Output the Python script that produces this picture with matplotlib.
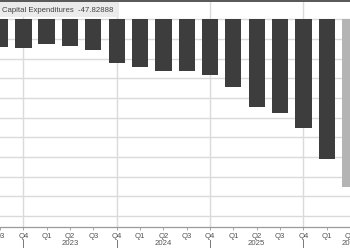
import matplotlib
matplotlib.use("Agg")
import matplotlib.pyplot as plt
from matplotlib.patches import Rectangle
import numpy as np

# ---- data ----
quarters = ["Q3", "Q4", "Q1", "Q2", "Q3", "Q4", "Q1", "Q2", "Q3", "Q4",
            "Q1", "Q2", "Q3", "Q4", "Q1", "Q2"]
capex = [-7.78, -8.24, -7.09, -7.49, -8.72, -12.36, -13.50, -14.73, -14.65,
         -15.88, -19.22, -25.11, -26.83, -31.12, -39.99, -47.83]
estimate = [False] * 15 + [True]
year_labels = ["2023", "2024", "2025", "2026"]
year_sep_idx = [1, 5, 9, 13]          # positions of the "|" separators (Q4 bars)
legend_text = "Capital Expenditures  -47.82888"

# ---- styling ----
bar_col = "#3d3d3d"
est_col = "#b4b4b4"
grid_col = "#dadada"
txt_col = "#555555"

plt.rcParams["font.family"] = ["Liberation Sans", "DejaVu Sans"]

fig = plt.figure(figsize=(3.5, 2.5), dpi=100)
ax = fig.add_axes([0.0, 23 / 250, 1.0, 225 / 250])

x = np.arange(len(capex))
colors = [est_col if e else bar_col for e in estimate]
ax.bar(x, capex, width=0.7, color=colors, zorder=3)

ax.set_xlim(0.11, 14.94)
ax.set_ylim(-59.35, 5.0)

# horizontal gridlines
step = 5.62
ax.set_yticks(np.arange(0, -57, -step))
ax.yaxis.grid(True, color=grid_col, linewidth=1.0, zorder=0)
ax.tick_params(axis="y", left=False, labelleft=False)

# vertical gridlines at year separators
for s in year_sep_idx:
    ax.axvline(s, color=grid_col, linewidth=1.0, zorder=0)

# spines
for sp in ["top", "right", "left"]:
    ax.spines[sp].set_visible(False)
ax.spines["bottom"].set_color("#9a9a9a")
ax.spines["bottom"].set_linewidth(0.9)

# x ticks
ax.set_xticks(x)
ax.set_xticklabels(quarters, fontsize=5.6, color=txt_col)
ax.tick_params(axis="x", length=2.5, width=0.6, color="#9a9a9a", pad=1.5)

# year labels and separators
for i, s in enumerate(year_sep_idx):
    ax.plot([s, s], [-0.058, -0.089], transform=ax.get_xaxis_transform(),
            color="#777777", linewidth=0.7, clip_on=False)
    ax.annotate(year_labels[i], xy=(s + 2, 0), xycoords=("data", "axes fraction"),
                xytext=(0, -16.5 * 0.72), textcoords="offset points",
                ha="center", va="center", fontsize=5.6, color=txt_col,
                annotation_clip=False)

# top border line
fig.patches.append(Rectangle((0, 248 / 250), 1, 2 / 250, transform=fig.transFigure,
                             facecolor="#5a5a5a", edgecolor="none", zorder=10))

# legend box
fig.patches.append(Rectangle((0, (250 - 17) / 250), 119 / 350, 15 / 250,
                             transform=fig.transFigure, facecolor="#ebebeb",
                             edgecolor="none", zorder=10))
fig.text(2 / 350, (250 - 10) / 250, legend_text, fontsize=5.6, color="#444444",
         ha="left", va="center", zorder=11)

fig.savefig("out.png", dpi=100)
